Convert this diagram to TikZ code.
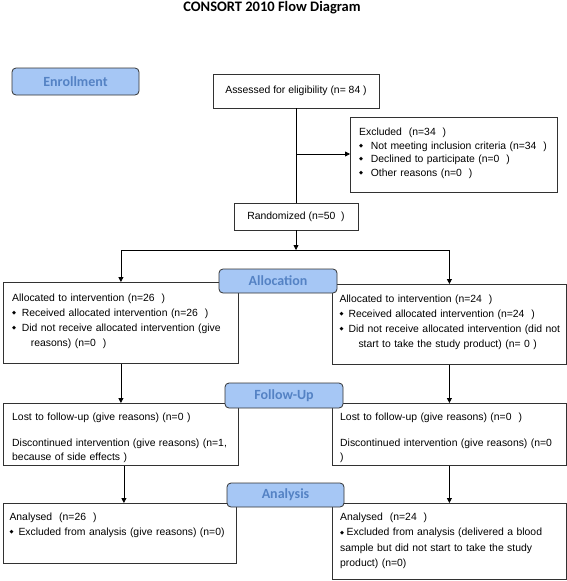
\documentclass[tikz,border=0pt]{standalone}
\usepackage{fontspec}
\setmainfont{Liberation Sans}
\newfontfamily\calfont{Carlito}
\newfontfamily\djv{DejaVu Sans}
\usetikzlibrary{arrows.meta}
\definecolor{lblfill}{RGB}{166,199,245}
\definecolor{lbltext}{RGB}{84,130,196}
\definecolor{edgegray}{RGB}{50,50,50}
\newcommand\bul{\raisebox{1.6pt}{\djv\fontsize{5.2}{6}\selectfont ◆}}
\newcommand\bl[1]{\makebox[#1][l]{\bul}}
\begin{document}
\begin{tikzpicture}[x=1pt,y=-1pt,
  box/.style={draw=edgegray, line width=0.8pt, fill=white, inner sep=0pt,
    font=\fontsize{10.4}{13.5}\selectfont},
  txt/.style={inner sep=0pt, anchor=base west, align=left, text width=250pt},
  stage/.style={draw=edgegray, line width=0.8pt, fill=lblfill, rounded corners=4pt,
    text=lbltext, font=\calfont\bfseries\fontsize{14}{16}\selectfont, inner sep=0pt},
  conn/.style={draw=black, line width=0.8pt},
  arr/.style={conn, -{Triangle[length=5pt,width=5pt]}}]
\useasboundingbox (0,0) rectangle (567,581);

\node[font=\calfont\bfseries\fontsize{14.5}{16}\selectfont] (title) at (272,7.5) {CONSORT 2010 Flow Diagram};

% boxes
\node[box, minimum width=166pt, minimum height=34pt] (assess) at (296,91) {Assessed for eligibility (n= 84 )};
\node[box, anchor=north west, minimum width=207pt, minimum height=75pt] (excl) at (350,117) {};
\node[txt, font=\fontsize{10.4}{13.5}\selectfont] (exclt) at (359,135.5)
  {Excluded~~(n=34~~)\\
   \bl{11.7pt}Not meeting inclusion criteria (n=34~~)\\
   \bl{11.7pt}Declined to participate (n=0~~)\\
   \bl{11.7pt}Other reasons (n=0~~)};
\node[box, minimum width=124pt, minimum height=27pt] (rand) at (296,216.5) {Randomized (n=50~~)};

\node[box, anchor=north west, minimum width=235pt, minimum height=81pt] (la) at (3,282) {};
\node[txt, font=\fontsize{10.4}{15}\selectfont] (lat) at (12,301.5)
  {Allocated to intervention (n=26~~)\\
   \bl{9.7pt}Received allocated intervention (n=26~~)\\
   \bl{9.7pt}Did not receive allocated intervention (give\\
   \hspace*{18.7pt}reasons) (n=0~~)};
\node[box, anchor=north west, minimum width=234pt, minimum height=80pt] (ra) at (332,284) {};
\node[txt, font=\fontsize{10.4}{15}\selectfont] (rat) at (339.3,302.5)
  {Allocated to intervention (n=24~~)\\
   \bl{9pt}Received allocated intervention (n=24~~)\\
   \bl{9pt}Did not receive allocated intervention (did not\\
   \hspace*{19pt}start to take the study product) (n= 0 )};

\node[box, anchor=north west, minimum width=235pt, minimum height=62pt] (lf) at (3,403) {};
\node[txt, font=\fontsize{10.4}{13.5}\selectfont] (lft) at (12,420.5)
  {Lost to follow-up (give reasons) (n=0 )\\[12.5pt]
   Discontinued intervention (give reasons) (n=1,\\
   because of side effects )};
\node[box, anchor=north west, minimum width=234pt, minimum height=62pt] (rf) at (332,403) {};
\node[txt, font=\fontsize{10.4}{13.5}\selectfont] (rft) at (340,420.5)
  {Lost to follow-up (give reasons) (n=0~~)\\[12.5pt]
   Discontinued intervention (give reasons) (n=0\\
   )};

\node[box, anchor=north west, minimum width=233pt, minimum height=60pt] (lan) at (3,503) {};
\node[txt, font=\fontsize{10.4}{15}\selectfont] (lant) at (9.3,520.5)
  {Analysed~~(n=26~~)\\
   \bl{9pt}Excluded from analysis (give reasons) (n=0)};
\node[box, anchor=north west, minimum width=234pt, minimum height=76pt] (ran) at (332,503) {};
\node[txt, font=\fontsize{10.4}{15.3}\selectfont] (rant) at (340,520.5)
  {Analysed~~(n=24~~)\\
   \bl{6.5pt}Excluded from analysis (delivered a blood\\
   sample but did not start to take the study\\
   product) (n=0)};

% connectors
\coordinate (j) at (296,154);
\coordinate (split) at (296,250);
\draw[conn] (assess.south) -- (assess.south |- rand.north);
\draw[arr] (j) -- (j -| excl.west);
\draw[arr] (rand.south) -- (split);
\draw[arr] (split) -| (la.north);
\draw[arr] (split) -| (ra.north);
\draw[arr] (la.south) -- (lf.north);
\draw[arr] (ra.south) -- (rf.north);
\draw[arr] ([xshift=3pt]lf.south) -- ([xshift=3pt]lf.south |- lan.north);
\draw[arr] (rf.south) -- (ran.north);

% stage labels
\node[stage, minimum width=127pt, minimum height=27pt] (enr) at (75.5,81.5) {Enrollment};
\node[stage, minimum width=118pt, minimum height=24pt] (alloc) at (278,281) {Allocation};
\node[stage, minimum width=118pt, minimum height=25pt] (fu) at (284,395.5) {Follow-Up};
\node[stage, minimum width=117pt, minimum height=24pt] (ana) at (285.5,495) {Analysis};
\end{tikzpicture}
\end{document}
